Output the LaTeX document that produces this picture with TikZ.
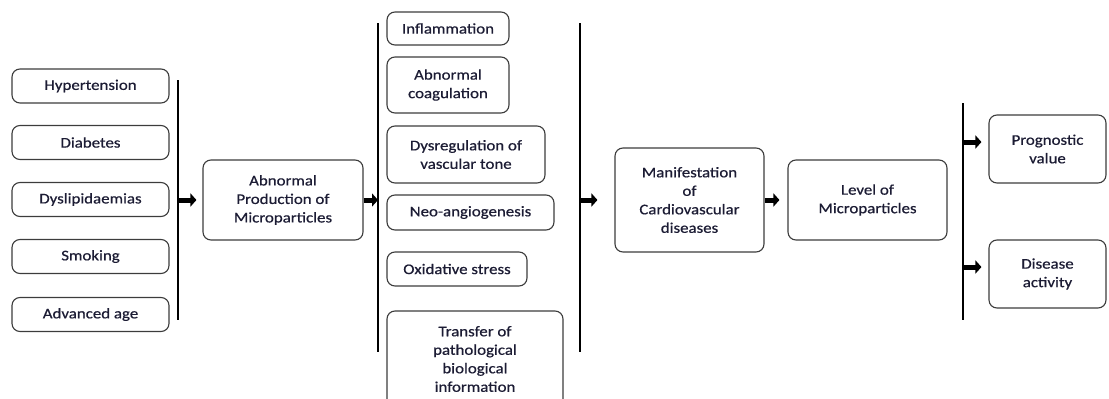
\documentclass[tikz,border=0pt]{standalone}
\usepackage{fontspec}
\setmainfont{Carlito}[FakeStretch=1.14,FakeBold=0.6]
\usetikzlibrary{arrows.meta,calc}
\definecolor{txt}{RGB}{28,28,52}
\definecolor{edge}{RGB}{60,60,60}
\begin{document}
\begin{tikzpicture}[x=1pt,y=-1pt,
  box/.style={draw=edge, rounded corners=8pt, line width=1.1pt, align=center,
    inner sep=2pt, font=\fontsize{14.8}{18.5}\selectfont, text=txt},
  arr/.style={line width=5pt, -{Triangle[length=6pt,width=13pt]}},
  bar/.style={line width=1.4pt}]
\useasboundingbox (0,0) rectangle (1109,399);
% left column
\node[box, minimum width=157pt, minimum height=34pt] (hyp) at (90.5,86) {Hypertension};
\node[box, minimum width=157pt, minimum height=34pt] (dia) at (90.5,142.5) {Diabetes};
\node[box, minimum width=157pt, minimum height=34pt] (dys) at (90.5,199.5) {Dyslipidaemias};
\node[box, minimum width=157pt, minimum height=34pt] (smo) at (90.5,256.5) {Smoking};
\node[box, minimum width=157pt, minimum height=34pt] (age) at (90.5,314.5) {Advanced age};
% bars
\coordinate (v1a) at (178,80); \coordinate (v1b) at (178,320);
\coordinate (v2a) at (378,23); \coordinate (v2b) at (378,352);
\coordinate (v3a) at (580,23); \coordinate (v3b) at (580,352);
\coordinate (v4a) at (963,103); \coordinate (v4b) at (963,320);
\draw[bar] (v1a) -- (v1b);
\draw[bar] (v2a) -- (v2b);
\draw[bar] (v3a) -- (v3b);
\draw[bar] (v4a) -- (v4b);
% abnormal production
\node[box, minimum width=160pt, minimum height=80pt] (abn) at (283,200) {Abnormal\\Production of\\Microparticles};
% middle column
\node[box, minimum width=122pt, minimum height=33pt] (inf) at (448,28.5) {Inflammation};
\node[box, minimum width=122pt, minimum height=56pt] (coa) at (448,85) {Abnormal\\coagulation};
\node[box, minimum width=158pt, minimum height=57pt] (vas) at (466,154.5) {Dysregulation of\\vascular tone};
\node[box, minimum width=167pt, minimum height=35pt] (neo) at (470.5,212.5) {Neo-angiogenesis};
\node[box, minimum width=140pt, minimum height=34pt] (oxi) at (457,269) {Oxidative stress};
\node[box, minimum width=176pt, minimum height=96pt] (tra) at (475,359) {Transfer of\\pathological\\biological\\information};
% right part
\node[box, minimum width=149pt, minimum height=104pt] (man) at (689.5,200) {Manifestation\\of\\Cardiovascular\\diseases};
\node[box, minimum width=159pt, minimum height=80pt] (lev) at (867.5,200) {Level of\\Microparticles};
\node[box, minimum width=117pt, minimum height=68pt] (pro) at (1047.5,149) {Prognostic\\value};
\node[box, minimum width=117pt, minimum height=68pt] (act) at (1047.5,274) {Disease\\activity};
% arrows
\draw[arr, shorten >=6pt] (v1a |- abn.west) -- (abn.west);
\draw[arr] (abn.east) -- (v2a |- abn.east);
\draw[arr, shorten >=17pt] (v3a |- man.west) -- (man.west);
\draw[arr, shorten >=8pt] (man.east) -- (lev.west);
\draw[arr, shorten >=7pt] ($(v4a |- pro.west)+(0,-7)$) -- ($(pro.west)+(0,-7)$);
\draw[arr, shorten >=7pt] ($(v4a |- act.west)+(0,-7)$) -- ($(act.west)+(0,-7)$);
\end{tikzpicture}
\end{document}
